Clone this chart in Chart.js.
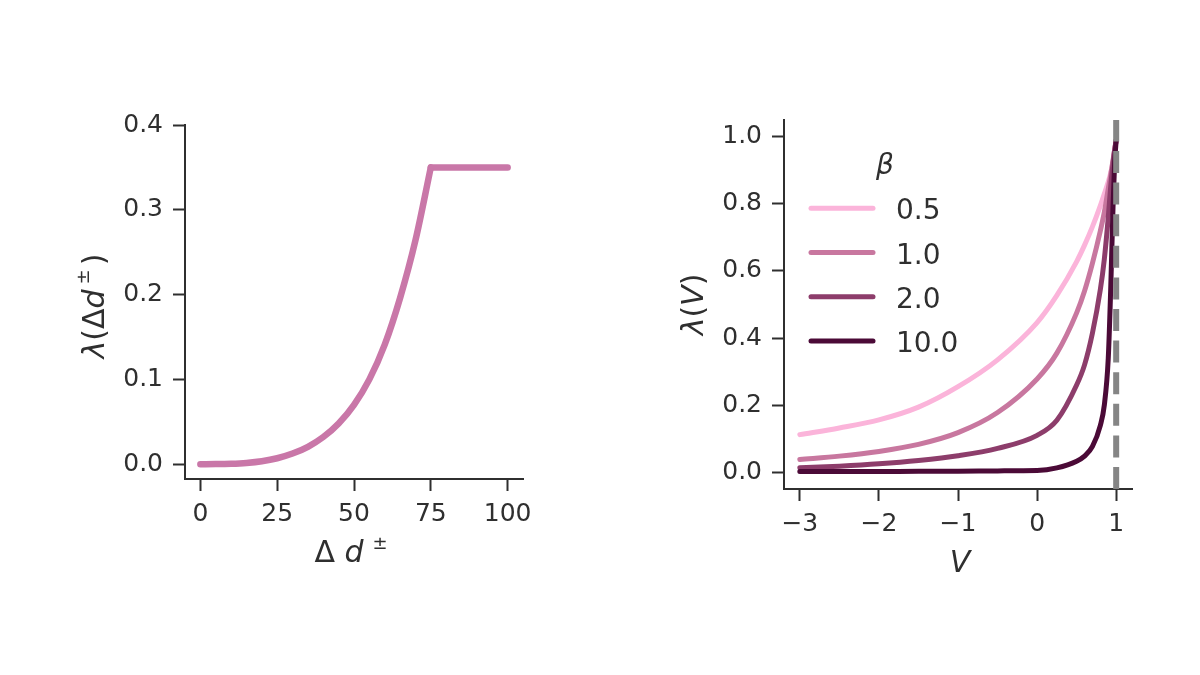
<!DOCTYPE html>
<html>
<head>
<meta charset="utf-8">
<script src="https://cdn.jsdelivr.net/npm/chart.js@4.4.1/dist/chart.umd.min.js"></script>
<style>
  html, body { margin: 0; padding: 0; background: #fff; }
  #wrap { position: relative; width: 1200px; height: 675px; }
  .panel { position: absolute; top: 0; width: 600px; height: 675px; }
</style>
</head>
<body>
<div id="wrap">
  <div class="panel" style="left:0"><canvas id="leftChart" width="600" height="675"></canvas></div>
  <div class="panel" style="left:600px"><canvas id="rightChart" width="600" height="675"></canvas></div>
</div>
<script>
// left panel: lambda(delta d)
const deltaD = [0, 5, 10, 15, 20, 25, 30, 35, 40, 45, 50, 55, 60, 65, 70, 75, 80, 85, 90, 95, 100];
const lambdaDeltaD = [0, 0.0001, 0.0005, 0.0015, 0.0035, 0.007, 0.0125, 0.0205, 0.032, 0.048, 0.070, 0.100, 0.141, 0.196, 0.264, 0.350, 0.350, 0.350, 0.350, 0.350, 0.350];
const kneeAt = 75;

// right panel: lambda(V) per beta
const vGrid = [-3, -2.5, -2, -1.5, -1, -0.5, 0, 0.25, 0.5, 0.6, 0.7, 0.8, 0.85, 0.9, 0.93, 0.96, 0.98, 1.0];
const lambdaBeta05 = [0.112, 0.132, 0.156, 0.194, 0.255, 0.335, 0.446, 0.527, 0.628, 0.677, 0.732, 0.795, 0.830, 0.866, 0.892, 0.925, 0.955, 0.990];
const lambdaBeta1 = [0.038, 0.048, 0.062, 0.083, 0.118, 0.178, 0.278, 0.355, 0.475, 0.540, 0.623, 0.720, 0.775, 0.845, 0.885, 0.930, 0.960, 0.990];
const lambdaBeta2 = [0.013, 0.018, 0.025, 0.035, 0.049, 0.071, 0.110, 0.155, 0.260, 0.320, 0.415, 0.545, 0.635, 0.760, 0.850, 0.920, 0.960, 0.990];
const lambdaBeta10 = [0.002, 0.002, 0.002, 0.003, 0.003, 0.004, 0.005, 0.013, 0.033, 0.048, 0.077, 0.140, 0.200, 0.340, 0.540, 0.790, 0.920, 0.990];
const betaLabels = ['0.5', '1.0', '2.0', '10.0'];
const betaColors = ['#fbb4da', '#c8779f', '#8d3d6b', '#4b0a37'];
const vLineAt = 1;

// ticks
const leftXTicks = [0, 25, 50, 75, 100];
const leftYTicks = [0, 0.1, 0.2, 0.3, 0.4];
const rightXTicks = [-3, -2, -1, 0, 1];
const rightYTicks = [0, 0.2, 0.4, 0.6, 0.8, 1.0];

const INK = '#2f2f2f';
const FONT = '"DejaVu Sans", sans-serif';

const toPoints = (xs, ys) => xs.map((x, i) => ({ x: x, y: ys[i] }));
const fmtMinus = v => (v < 0 ? '\u2212' + Math.abs(v) : String(v));

function segFont(s) {
    return (s.it ? 'italic ' : '') + (s.size || 30) + 'px ' + FONT;
}

function drawRich(ctx, segs, cx, baseline) {
    let w = 0;
    segs.forEach(s => { ctx.font = segFont(s); w += (s.dx || 0) + ctx.measureText(s.t).width; });
    let x = cx - w / 2;
    ctx.textAlign = 'left';
    ctx.textBaseline = 'alphabetic';
    segs.forEach(s => {
        ctx.font = segFont(s);
        x += s.dx || 0;
        ctx.fillText(s.t, x, baseline + (s.dy || 0));
        x += ctx.measureText(s.t).width;
    });
}

// axis titles drawn as mixed upright / italic math text
function axisTitles(xSegs, ySegs, xShift, yShift) {
    return {
        id: 'axisTitles',
        afterDraw(chart) {
            const { ctx, chartArea: a } = chart;
            ctx.save();
            ctx.fillStyle = INK;
            drawRich(ctx, xSegs, (a.left + a.right) / 2 + xShift, a.bottom + 83);
            ctx.translate(a.left - 81, (a.top + a.bottom) / 2 + yShift);
            ctx.rotate(-Math.PI / 2);
            drawRich(ctx, ySegs, 0, 0);
            ctx.restore();
        }
    };
}

function axisStyle(min, max, ticks, fmt, pad, size, isX) {
    return {
        type: 'linear',
        min: min,
        max: max,
        afterBuildTicks: s => { s.ticks = ticks.map(v => ({ value: v })); },
        afterFit: s => { if (isX) s.height = size; else s.width = size; },
        grid: { drawOnChartArea: false, drawTicks: true, tickLength: 12, tickWidth: 2, tickColor: INK },
        border: { display: true, color: INK, width: 2 },
        ticks: {
            color: INK,
            font: { family: FONT, size: 25 },
            padding: pad,
            autoSkip: false,
            maxRotation: 0,
            callback: fmt
        }
    };
}

const baseOptions = (padding, scales) => ({
    responsive: false,
    animation: false,
    layout: { padding: padding },
    plugins: { legend: { display: false }, tooltip: { enabled: false } },
    elements: { point: { radius: 0 } },
    scales: scales
});

// left chart: rising part smooth, plateau straight, so the knee stays sharp
const kneeIdx = deltaD.indexOf(kneeAt);
new Chart(document.getElementById('leftChart'), {
    type: 'line',
    data: {
        datasets: [
            {
                data: toPoints(deltaD.slice(0, kneeIdx + 1), lambdaDeltaD.slice(0, kneeIdx + 1)),
                borderColor: '#c977a8',
                borderWidth: 6.5,
                cubicInterpolationMode: 'monotone',
                borderCapStyle: 'round'
            },
            {
                data: toPoints(deltaD.slice(kneeIdx), lambdaDeltaD.slice(kneeIdx)),
                borderColor: '#c977a8',
                borderWidth: 6.5,
                tension: 0,
                borderCapStyle: 'round'
            }
        ]
    },
    options: baseOptions({ left: 60, right: 77, top: 125, bottom: 96 }, {
        x: axisStyle(-5, 105, leftXTicks, v => String(v), 8, 100, true),
        y: axisStyle(-0.0175, 0.4, leftYTicks, v => v.toFixed(1), 10, 125, false)
    }),
    plugins: [axisTitles(
        [{ t: '\u0394' }, { t: ' ' }, { t: 'd', it: true }, { t: '\u00b1', size: 18, dx: 9, dy: -13 }],
        [{ t: '\u03bb', it: true }, { t: '(' }, { t: '\u0394' }, { t: 'd', it: true },
         { t: '\u00b1', size: 18, dx: 5, dy: -15 }, { t: ')', dx: 4 }],
        -3, 4
    )]
});

// right chart
const betaSeries = [lambdaBeta05, lambdaBeta1, lambdaBeta2, lambdaBeta10];

const dashedLine = {
    id: 'dashedLine',
    afterDatasetsDraw(chart) {
        const { ctx, chartArea: a, scales } = chart;
        const px = scales.x.getPixelForValue(vLineAt);
        ctx.save();
        ctx.strokeStyle = '#858585';
        ctx.lineWidth = 6;
        ctx.setLineDash([22, 9.6]);
        ctx.beginPath();
        ctx.moveTo(px, a.bottom);
        ctx.lineTo(px, a.top);
        ctx.stroke();
        ctx.restore();
    }
};

const betaLegend = {
    id: 'betaLegend',
    afterDraw(chart) {
        const { ctx, chartArea: a } = chart;
        ctx.save();
        ctx.fillStyle = INK;
        ctx.font = 'italic 28px ' + FONT;
        ctx.textAlign = 'center';
        ctx.textBaseline = 'alphabetic';
        ctx.fillText('\u03b2', a.left + 101, a.top + 54);
        ctx.textAlign = 'left';
        ctx.font = '28px ' + FONT;
        betaLabels.forEach((lab, i) => {
            const y = a.top + 88.3 + i * 44.2;
            ctx.strokeStyle = betaColors[i];
            ctx.lineWidth = 5;
            ctx.lineCap = 'round';
            ctx.beginPath();
            ctx.moveTo(a.left + 27, y);
            ctx.lineTo(a.left + 89, y);
            ctx.stroke();
            ctx.fillText(lab, a.left + 112, y + 11);
        });
        ctx.restore();
    }
};

new Chart(document.getElementById('rightChart'), {
    type: 'line',
    data: {
        datasets: betaSeries.map((ys, i) => ({
            label: betaLabels[i],
            data: toPoints(vGrid, ys),
            borderColor: betaColors[i],
            borderWidth: 5,
            cubicInterpolationMode: 'monotone',
            borderCapStyle: 'round',
            order: betaSeries.length - i
        }))
    },
    options: baseOptions({ left: 60, right: 68, top: 120, bottom: 86 }, {
        x: axisStyle(-3.2, 1.2, rightXTicks, fmtMinus, 8, 100, true),
        y: axisStyle(-0.05, 1.05, rightYTicks, v => v.toFixed(1), 10, 124, false)
    }),
    plugins: [dashedLine, betaLegend, axisTitles(
        [{ t: 'V', it: true }],
        [{ t: '\u03bb', it: true }, { t: '(' }, { t: 'V', it: true }, { t: ')' }],
        2, 0
    )]
});
</script>
</body>
</html>
